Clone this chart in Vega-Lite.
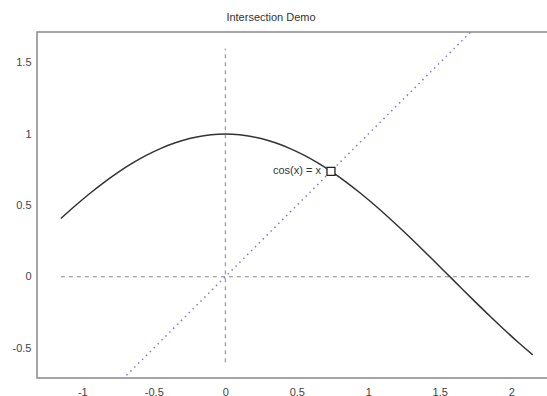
{
  "$schema": "https://vega.github.io/schema/vega-lite/v6.json",
  "width": 520,
  "height": 346,
  "autosize": "none",
  "padding": {"left": 37, "top": 32, "right": 0, "bottom": 18},
  "background": "white",
  "config": {
    "view": {"stroke": "#888888", "strokeWidth": 1.5},
    "font": "Liberation Sans"
  },
  "title": {"text": "Intersection Demo", "fontSize": 11, "fontWeight": "normal", "color": "#333333", "offset": 9, "dx": -26},
  "datasets": {
    "curve": [
      {"x": -1.15, "y": 0.4085}, {"x": -1.05, "y": 0.4976}, {"x": -0.95, "y": 0.5817}, {"x": -0.85, "y": 0.66},
      {"x": -0.75, "y": 0.7317}, {"x": -0.65, "y": 0.7961}, {"x": -0.55, "y": 0.8525}, {"x": -0.45, "y": 0.9004},
      {"x": -0.35, "y": 0.9394}, {"x": -0.25, "y": 0.9689}, {"x": -0.15, "y": 0.9888}, {"x": -0.05, "y": 0.9988},
      {"x": 0, "y": 1}, {"x": 0.05, "y": 0.9988}, {"x": 0.15, "y": 0.9888}, {"x": 0.25, "y": 0.9689},
      {"x": 0.35, "y": 0.9394}, {"x": 0.45, "y": 0.9004}, {"x": 0.55, "y": 0.8525}, {"x": 0.65, "y": 0.7961},
      {"x": 0.75, "y": 0.7317}, {"x": 0.85, "y": 0.66}, {"x": 0.95, "y": 0.5817}, {"x": 1.05, "y": 0.4976},
      {"x": 1.15, "y": 0.4085}, {"x": 1.25, "y": 0.3153}, {"x": 1.35, "y": 0.219}, {"x": 1.45, "y": 0.1205},
      {"x": 1.55, "y": 0.0208}, {"x": 1.65, "y": -0.0791}, {"x": 1.75, "y": -0.1782}, {"x": 1.85, "y": -0.2756},
      {"x": 1.95, "y": -0.3702}, {"x": 2.05, "y": -0.4611}, {"x": 2.15, "y": -0.5474}
    ],
    "diag": [{"x": -0.8, "y": -0.8}, {"x": 1.8, "y": 1.8}],
    "hline": [{"x": -1.15, "y": 0}, {"x": 2.15, "y": 0}],
    "vline": [{"x": 0, "y": -0.6}, {"x": 0, "y": 1.6}],
    "point": [{"x": 0.7391, "y": 0.7391, "label": "cos(x) = x"}]
  },
  "encoding": {
    "x": {"field": "x", "type": "quantitative", "scale": {"domain": [-1.317, 2.32], "nice": false, "zero": false},
      "axis": {"title": null, "values": [-1, -0.5, 0, 0.5, 1, 1.5, 2], "labelExpr": "datum.value + ''", "ticks": false, "grid": false, "domain": false, "labelPadding": 8, "labelFontSize": 11, "labelColor": "#444444"}},
    "y": {"field": "y", "type": "quantitative", "scale": {"domain": [-0.71, 1.716], "nice": false, "zero": false},
      "axis": {"title": null, "values": [-0.5, 0, 0.5, 1, 1.5], "labelExpr": "datum.value + ''", "ticks": false, "grid": false, "domain": false, "labelPadding": 6, "labelFontSize": 11, "labelColor": "#444444"}}
  },
  "layer": [
    {"data": {"name": "hline"}, "mark": {"type": "line", "color": "#888888", "strokeWidth": 1, "strokeDash": [4, 4]}},
    {"data": {"name": "vline"}, "mark": {"type": "line", "color": "#888888", "strokeWidth": 1, "strokeDash": [4, 4]}},
    {"data": {"name": "diag"}, "mark": {"type": "line", "color": "#7b7bd6", "strokeWidth": 1.5, "strokeDash": [1.5, 4], "clip": true}},
    {"data": {"name": "curve"}, "mark": {"type": "line", "color": "#333333", "strokeWidth": 1.5, "interpolate": "monotone"}},
    {"data": {"name": "point"}, "mark": {"type": "point", "shape": "square", "size": 64, "filled": false, "color": "#222222", "fill": "white", "fillOpacity": 1, "strokeWidth": 1.3, "opacity": 1}},
    {"data": {"name": "point"}, "mark": {"type": "text", "align": "right", "dx": -10, "fontSize": 11, "color": "#333333"}, "encoding": {"text": {"field": "label"}}}
  ]
}
